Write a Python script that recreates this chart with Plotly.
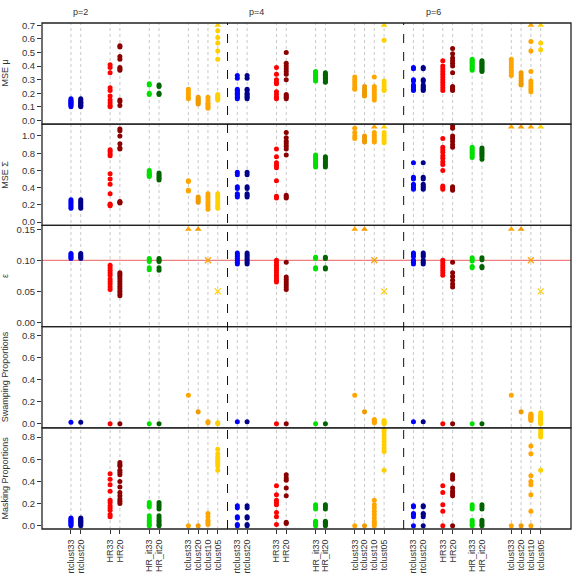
import plotly.graph_objects as go

# ---------------- data ----------------
methods = ["rtclust33", "rtclust20", "HR33", "HR20", "HR_it33", "HR_it20",
           "tclust33", "tclust20", "tclust10", "tclust05"]
colors = ["#0000FF", "#00008B", "#FF0000", "#8B0000", "#00E000", "#006400",
          "#FFA500", "#EE9A00", "#FFA500", "#FFD000"]
groups = ["p=2", "p=4", "p=6"]
# slot of each method on the categorical axis, per group
pos_p2 = [0, 1, 4, 5, 8, 9, 12, 13, 14, 15]
pos_p4 = [17, 18, 21, 22, 25, 26, 29, 30, 31, 32]
pos_p6 = [35, 36, 38, 39, 41, 42, 45, 46, 47, 48]
separators = [16, 34]
group_label_pos = [1, 19, 37]

panel_titles = ["MSE \u03bc", "MSE \u03a3", "\u03b5", "Swamping Proportions", "Masking Proportions"]
panel_ranges = [[-0.028, 0.717], [-0.039, 1.137], [-0.0068, 0.1563], [-0.036, 0.884], [-0.03, 0.884]]
panel_ticks = [[0.0, 0.1, 0.2, 0.3, 0.4, 0.5, 0.6, 0.7],
               [0.0, 0.2, 0.4, 0.6, 0.8, 1.0],
               [0.00, 0.05, 0.10, 0.15],
               [0.0, 0.2, 0.4, 0.6, 0.8],
               [0.0, 0.2, 0.4, 0.6, 0.8]]
panel_tickfmt = [".1f", ".1f", ".2f", ".1f", ".1f"]
# values above these are off-scale and shown as a triangle at the top
panel_caps = [0.717, 1.137, 0.156, None, None]
panel_cap_mark = [0.70, 1.105, 0.15, None, None]
eps_target = 0.10

# MSE mu  (values above the axis = off-scale)
mse_mu_p2 = [
    [0.10, 0.11, 0.12, 0.13, 0.14, 0.15, 0.16, 0.12, 0.14],
    [0.10, 0.11, 0.12, 0.13, 0.14, 0.15, 0.16, 0.11, 0.13],
    [0.41, 0.39, 0.35, 0.24, 0.22, 0.18, 0.15, 0.13, 0.11, 0.10],
    [0.55, 0.54, 0.47, 0.45, 0.39, 0.38, 0.37, 0.15, 0.14, 0.11],
    [0.27, 0.26, 0.20, 0.19],
    [0.26, 0.25, 0.20, 0.19],
    [0.23, 0.21, 0.19, 0.17, 0.16],
    [0.17, 0.16, 0.15, 0.14, 0.13, 0.12],
    [0.17, 0.15, 0.13, 0.12, 0.11, 0.10, 0.09],
    [0.85, 0.66, 0.61, 0.57, 0.51, 0.45, 0.19, 0.18, 0.17, 0.16, 0.15],
]
mse_mu_p4 = [
    [0.33, 0.31, 0.23, 0.22, 0.21, 0.20, 0.19, 0.18, 0.17, 0.16],
    [0.33, 0.31, 0.23, 0.22, 0.20, 0.19, 0.18, 0.17, 0.16],
    [0.39, 0.34, 0.30, 0.28, 0.27, 0.21, 0.19, 0.17, 0.16],
    [0.50, 0.42, 0.40, 0.38, 0.36, 0.34, 0.30, 0.19, 0.18, 0.17, 0.16],
    [0.36, 0.35, 0.34, 0.33, 0.32, 0.31, 0.30, 0.29],
    [0.35, 0.34, 0.33, 0.32, 0.31, 0.30, 0.29, 0.28],
    [0.32, 0.30, 0.28, 0.26, 0.24, 0.23],
    [0.25, 0.23, 0.21, 0.20, 0.19, 0.18],
    [0.32, 0.25, 0.23, 0.21, 0.19, 0.17, 0.15],
    [0.85, 0.59, 0.29, 0.27, 0.25, 0.23, 0.22],
]
mse_mu_p6 = [
    [0.39, 0.38, 0.30, 0.29, 0.26, 0.25, 0.24, 0.23, 0.22],
    [0.39, 0.38, 0.30, 0.29, 0.26, 0.25, 0.24, 0.23, 0.22],
    [0.44, 0.40, 0.38, 0.36, 0.34, 0.32, 0.30, 0.28, 0.26, 0.24, 0.22],
    [0.53, 0.49, 0.46, 0.44, 0.42, 0.40, 0.35, 0.25, 0.24, 0.23, 0.22],
    [0.45, 0.44, 0.43, 0.42, 0.41, 0.40, 0.39, 0.38, 0.37],
    [0.44, 0.43, 0.42, 0.41, 0.40, 0.39, 0.38, 0.37, 0.36],
    [0.45, 0.43, 0.41, 0.39, 0.37, 0.35, 0.33],
    [0.35, 0.33, 0.31, 0.29, 0.27, 0.26],
    [0.85, 0.58, 0.51, 0.36, 0.29, 0.27, 0.25, 0.23, 0.21],
    [0.85, 0.57, 0.52],
]

# MSE Sigma
mse_sigma_p2 = [
    [0.26, 0.24, 0.22, 0.20, 0.18, 0.16],
    [0.26, 0.24, 0.22, 0.20, 0.18, 0.16],
    [0.84, 0.82, 0.79, 0.77, 0.56, 0.50, 0.44, 0.33, 0.21, 0.20, 0.19],
    [1.08, 1.06, 1.00, 0.91, 0.86, 0.85, 0.24, 0.23, 0.22],
    [0.60, 0.58, 0.56, 0.55, 0.54, 0.53],
    [0.57, 0.55, 0.53, 0.51, 0.49],
    [0.48, 0.47, 0.37, 0.36],
    [0.29, 0.27, 0.25, 0.23],
    [0.33, 0.30, 0.27, 0.24, 0.21, 0.18, 0.15],
    [0.33, 0.30, 0.27, 0.24, 0.21, 0.18, 0.16],
]
mse_sigma_p4 = [
    [0.58, 0.55, 0.41, 0.39, 0.33, 0.31, 0.29],
    [0.58, 0.55, 0.41, 0.39, 0.33, 0.31, 0.29],
    [0.85, 0.76, 0.69, 0.66, 0.63, 0.48, 0.30, 0.28],
    [1.04, 0.98, 0.94, 0.91, 0.88, 0.85, 0.78, 0.31, 0.29, 0.28],
    [0.78, 0.76, 0.74, 0.72, 0.70, 0.68, 0.66, 0.64],
    [0.76, 0.74, 0.72, 0.70, 0.68, 0.66, 0.64],
    [1.09, 1.04, 1.00, 0.97],
    [1.00, 0.98, 0.95, 0.93],
    [1.25, 1.04, 1.01, 0.98, 0.95, 0.93],
    [1.25, 1.04, 1.01, 0.98, 0.95, 0.92],
]
mse_sigma_p6 = [
    [0.69, 0.52, 0.50, 0.44, 0.42, 0.40, 0.38],
    [0.69, 0.52, 0.50, 0.44, 0.42, 0.40, 0.38],
    [0.97, 0.87, 0.84, 0.81, 0.77, 0.74, 0.70, 0.67, 0.60, 0.42, 0.40, 0.38],
    [1.12, 1.09, 1.00, 0.97, 0.94, 0.90, 0.87, 0.41, 0.39, 0.37],
    [0.87, 0.85, 0.83, 0.81, 0.79, 0.77, 0.75],
    [0.86, 0.84, 0.82, 0.80, 0.78, 0.76, 0.73],
    [1.25], [1.25], [1.25], [1.25],
]

# epsilon (tclust trimming levels are fixed)
eps_p2 = [
    [0.111, 0.109, 0.107, 0.105, 0.103],
    [0.111, 0.109, 0.107, 0.105, 0.103],
    [0.092, 0.088, 0.084, 0.080, 0.076, 0.070, 0.066, 0.062, 0.057, 0.053],
    [0.080, 0.077, 0.074, 0.070, 0.066, 0.062, 0.058, 0.054, 0.050, 0.046, 0.043],
    [0.103, 0.100, 0.098, 0.088, 0.085],
    [0.103, 0.100, 0.098, 0.088, 0.084],
    [0.33], [0.20], [0.10], [0.05],
]
eps_p4 = [
    [0.112, 0.109, 0.106, 0.103, 0.100, 0.097, 0.094],
    [0.112, 0.109, 0.106, 0.103, 0.100, 0.097, 0.094],
    [0.100, 0.096, 0.092, 0.088, 0.084, 0.080, 0.076, 0.072, 0.068, 0.065],
    [0.097, 0.073, 0.069, 0.065, 0.061, 0.057, 0.053],
    [0.105, 0.103, 0.088, 0.086],
    [0.105, 0.103, 0.088, 0.086],
    [0.33], [0.20], [0.10], [0.05],
]
eps_p6 = [
    [0.112, 0.109, 0.106, 0.100, 0.097, 0.094],
    [0.112, 0.109, 0.106, 0.100, 0.097, 0.094],
    [0.100, 0.096, 0.092, 0.088, 0.084, 0.080, 0.076],
    [0.097, 0.080, 0.074, 0.068, 0.062, 0.057],
    [0.104, 0.101, 0.099, 0.090, 0.088],
    [0.104, 0.101, 0.090, 0.088],
    [0.33], [0.20], [0.10], [0.05],
]

# swamping proportions
swamp_p2 = [[0.015], [0.015], [0.0], [0.0], [0.0], [0.0], [0.26], [0.11],
            [0.02, 0.01], [0.01, 0.0]]
swamp_p4 = [[0.02], [0.02], [0.0], [0.0], [0.0], [0.0], [0.26], [0.11],
            [0.04, 0.03, 0.02, 0.01], [0.03, 0.02, 0.01, 0.0]]
swamp_p6 = [[0.02], [0.02], [0.0], [0.0], [0.0], [0.0], [0.26], [0.11],
            [0.09, 0.08, 0.07, 0.06, 0.05, 0.04, 0.03],
            [0.10, 0.08, 0.07, 0.06, 0.05, 0.04, 0.03, 0.02, 0.01, 0.0]]

# masking proportions
mask_p2 = [
    [0.07, 0.06, 0.05, 0.04, 0.03, 0.02, 0.01, 0.0],
    [0.07, 0.06, 0.05, 0.04, 0.03, 0.02, 0.01, 0.0],
    [0.47, 0.42, 0.37, 0.31, 0.23, 0.21, 0.18, 0.16, 0.14, 0.10, 0.08],
    [0.57, 0.55, 0.54, 0.50, 0.48, 0.46, 0.40, 0.35, 0.30, 0.27, 0.24, 0.22, 0.20],
    [0.21, 0.19, 0.17, 0.09, 0.07, 0.05, 0.03, 0.01, 0.0],
    [0.21, 0.19, 0.17, 0.15, 0.09, 0.07, 0.05, 0.03, 0.01, 0.0],
    [0.0], [0.0],
    [0.11, 0.08, 0.05, 0.03, 0.01],
    [0.69, 0.65, 0.62, 0.60, 0.58, 0.56, 0.54, 0.50],
]
mask_p4 = [
    [0.18, 0.16, 0.08, 0.07, 0.01, 0.0],
    [0.18, 0.16, 0.08, 0.07, 0.01, 0.0],
    [0.36, 0.28, 0.23, 0.21, 0.19, 0.12, 0.08, 0.01],
    [0.46, 0.43, 0.41, 0.34, 0.27, 0.03, 0.02],
    [0.19, 0.17, 0.15, 0.04, 0.03, 0.02, 0.01, 0.0],
    [0.19, 0.17, 0.15, 0.04, 0.03, 0.02, 0.01, 0.0],
    [0.0], [0.0],
    [0.23, 0.19, 0.16, 0.13, 0.10, 0.07, 0.04, 0.02, 0.0],
    [0.87, 0.85, 0.82, 0.79, 0.76, 0.73, 0.70, 0.67, 0.50],
]
mask_p6 = [
    [0.18, 0.17, 0.11, 0.10, 0.08, 0.0],
    [0.18, 0.17, 0.11, 0.10, 0.08, 0.0],
    [0.36, 0.30, 0.19, 0.13, 0.0],
    [0.46, 0.44, 0.42, 0.34, 0.31, 0.29, 0.27, 0.0],
    [0.19, 0.17, 0.15, 0.05, 0.03, 0.01, 0.0],
    [0.19, 0.17, 0.15, 0.05, 0.03, 0.01, 0.0],
    [0.0], [0.0],
    [0.72, 0.65, 0.45, 0.40, 0.37, 0.28, 0.13, 0.0],
    [0.86, 0.84, 0.82, 0.80, 0.50],
]

# ---------------- figure ----------------
W, H = 573, 575
ML, MR, MT, MB = 42, 2, 23, 46
FONT = "Liberation Sans, Arial, sans-serif"
TXT = "#333333"

panels = [
    [mse_mu_p2, mse_mu_p4, mse_mu_p6],
    [mse_sigma_p2, mse_sigma_p4, mse_sigma_p6],
    [eps_p2, eps_p4, eps_p6],
    [swamp_p2, swamp_p4, swamp_p6],
    [mask_p2, mask_p4, mask_p6],
]
group_pos = [pos_p2, pos_p4, pos_p6]
n_p = len(panels)

fig = go.Figure()

for k, panel in enumerate(panels):
    yref = "y" if k == 0 else f"y{k+1}"
    cap = panel_caps[k]
    for m, name in enumerate(methods):
        cx, cy, tx, ty, xx, xy = [], [], [], [], [], []
        for g, gdata in enumerate(panel):
            xpos = group_pos[g][m]
            for v in gdata[m]:
                if cap is not None and v > cap:
                    tx.append(xpos); ty.append(panel_cap_mark[k])
                elif k == 2 and name.startswith("tclust"):
                    xx.append(xpos); xy.append(v)
                else:
                    cx.append(xpos); cy.append(v)
        common = dict(xaxis="x", yaxis=yref, mode="markers", showlegend=False,
                      hoverinfo="skip", cliponaxis=False)
        if cx:
            fig.add_trace(go.Scatter(x=cx, y=cy, marker=dict(symbol="circle", size=5,
                          color=colors[m], line=dict(width=0)), **common))
        if tx:
            fig.add_trace(go.Scatter(x=tx, y=ty, marker=dict(symbol="triangle-up", size=6,
                          color=colors[m], line=dict(width=0)), **common))
        if xx:
            fig.add_trace(go.Scatter(x=xx, y=xy, marker=dict(symbol="x-thin-open", size=6,
                          color=colors[m], line=dict(width=1.3, color=colors[m])), **common))

all_pos = pos_p2 + pos_p4 + pos_p6
layout = dict(
    width=W, height=H,
    margin=dict(l=ML, r=MR, t=MT, b=MB, pad=0, autoexpand=False),
    paper_bgcolor="white", plot_bgcolor="white",
    font=dict(family=FONT, size=9, color=TXT),
    xaxis=dict(domain=[0, 1], range=[-2.96, 51.1], anchor=f"y{n_p}",
               tickmode="array", tickvals=all_pos, ticktext=methods * 3,
               tickangle=-90, ticks="outside", ticklen=4, tickcolor="#333",
               ticklabelstandoff=2, automargin=False,
               showgrid=False, zeroline=False, showline=False,
               tickfont=dict(family=FONT, size=9, color=TXT)),
)
shapes = []
annotations = []
for k in range(n_p):
    top = 1 - k / n_p
    bot = 1 - (k + 1) / n_p
    key = "yaxis" if k == 0 else f"yaxis{k+1}"
    layout[key] = dict(domain=[bot, top], range=panel_ranges[k], anchor="x",
                       tickmode="array", tickvals=panel_ticks[k],
                       tickformat=panel_tickfmt[k], ticks="outside", ticklen=4,
                       tickcolor="#333", showgrid=False, zeroline=False,
                       showline=False, automargin=False,
                       tickfont=dict(family=FONT, size=9.5, color=TXT))
    shapes.append(dict(type="rect", xref="paper", yref="paper", x0=0, x1=1,
                       y0=bot, y1=top, line=dict(color="#222", width=1.3),
                       layer="above"))
    annotations.append(dict(text=panel_titles[k], xref="paper", yref="paper",
                            x=(5 - ML) / (W - ML - MR), y=(bot + top) / 2,
                            textangle=-90, showarrow=False, xanchor="center",
                            yanchor="middle", font=dict(size=9, color=TXT)))

for xp in all_pos:
    shapes.append(dict(type="line", xref="x", yref="paper", x0=xp, x1=xp, y0=0, y1=1,
                       line=dict(color="#C8C8C8", width=1, dash="dot"), layer="below"))
for xs in separators:
    shapes.append(dict(type="line", xref="x", yref="paper", x0=xs, x1=xs, y0=0, y1=1,
                       line=dict(color="#111", width=1, dash="dash"), layer="above"))
shapes.append(dict(type="line", xref="paper", yref="y3", x0=0, x1=1,
                   y0=eps_target, y1=eps_target,
                   line=dict(color="#F08080", width=1.2), layer="below"))

for lbl, xp in zip(groups, group_label_pos):
    annotations.append(dict(text=lbl, xref="x", yref="paper", x=xp,
                            y=1 + (MT - 12) / (H - MT - MB), showarrow=False,
                            xanchor="center", yanchor="middle",
                            font=dict(size=9, color=TXT)))

layout["shapes"] = shapes
layout["annotations"] = annotations
fig.update_layout(**layout)
fig.write_html("out.html")
